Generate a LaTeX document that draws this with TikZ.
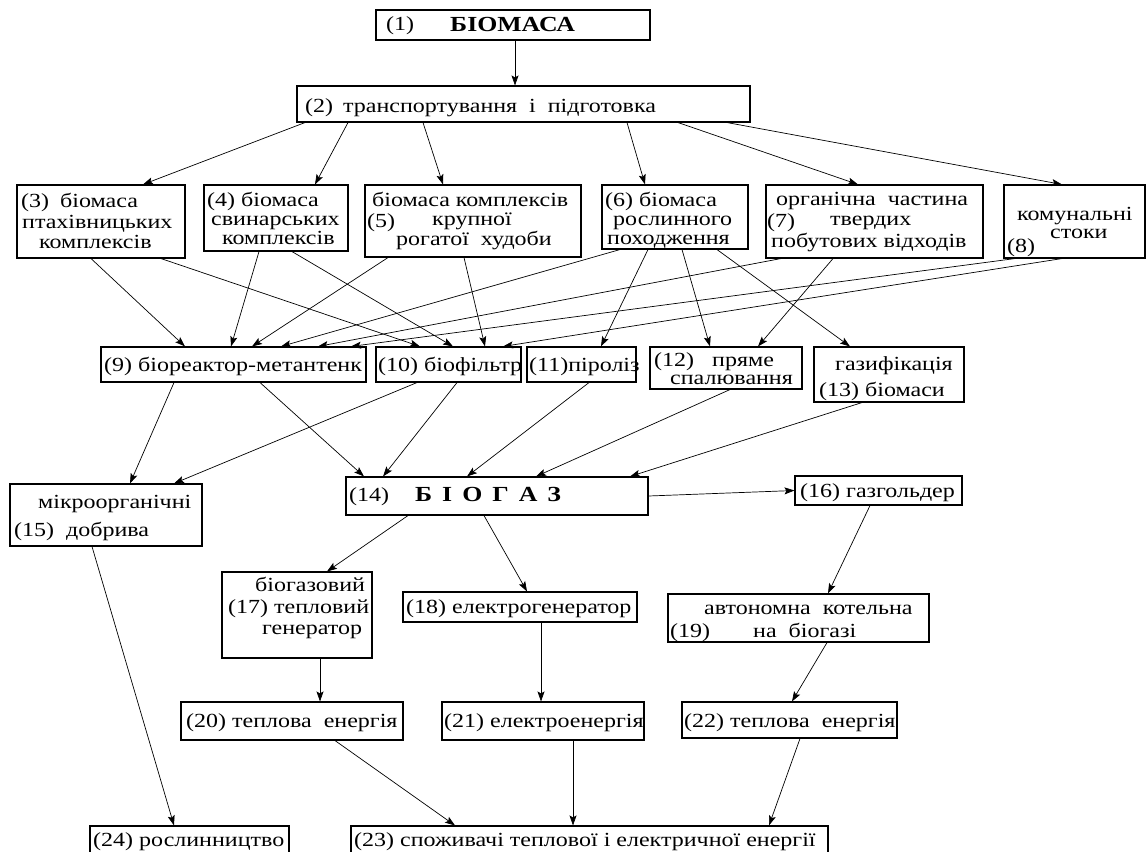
\documentclass[tikz,border=0pt]{standalone}
\usepackage{fontspec}
\setmainfont[FakeStretch=1.2]{Liberation Serif}
\usetikzlibrary{arrows.meta}
\newcommand\bx[5]{\node[box,minimum width={#4-#2},minimum height={#5-#3}] (#1) at ({(#2+#4)/2},{(#3+#5)/2}) {};}
\begin{document}
\begin{tikzpicture}[x=1pt,y=-1pt,
  box/.style={draw,line width=1.1pt,inner sep=0pt,fill=white},
  tx/.style={anchor=base west,inner sep=0pt,font=\fontsize{20}{20}\selectfont},
  bt/.style={anchor=base west,inner sep=0pt,font=\fontsize{21.5}{21.5}\selectfont\bfseries},
  arr/.style={-{Stealth[length=10pt,width=7pt,inset=2pt]},line width=0.7pt}]
\useasboundingbox[fill=white] (0,0) rectangle (1147,851);
% ---- boxes
\bx{n1}{376}{10}{650}{40}
\bx{n2}{297}{86}{750}{122}
\bx{n3}{17}{185}{185}{258}
\bx{n4}{204}{185}{348}{251}
\bx{n5}{365}{185}{581}{257}
\bx{n6}{602}{185}{748}{249}
\bx{n7}{766}{185}{983}{258}
\bx{n8}{1004}{185}{1145}{258}
\bx{n9}{101}{347}{366}{382}
\bx{n10}{376}{347}{521}{382}
\bx{n11}{527}{347}{636}{382}
\bx{n12}{650}{347}{802}{389}
\bx{n13}{814}{347}{964}{402}
\bx{n14}{346}{477}{648}{515}
\bx{n15}{10}{484}{202}{546}
\bx{n16}{795}{476}{962}{505}
\bx{n17}{222}{572}{372}{658}
\bx{n18}{403}{592}{637}{622}
\bx{n19}{668}{594}{929}{642}
\bx{n20}{181}{702}{403}{740}
\bx{n21}{442}{702}{644}{740}
\bx{n22}{682}{702}{897}{738}
\bx{n23}{351}{826}{828}{870}
\bx{n24}{90}{826}{289}{870}
% ---- texts
\node[tx] (l1) at (386,31) {(1)};
\node[bt] (t1) at (450,32) {БІОМАСА};
\node[tx] (l2) at (305,112) {(2)};
\node[tx] (t2) at (343,112) {транспортування~~і~~підготовка};
\node[tx] (l3) at (21,207) {(3)};
\node[tx] (t3a) at (60,207) {біомаса};
\node[tx] (t3b) at (22,228) {птахівницьких};
\node[tx] (t3c) at (39,248) {комплексів};
\node[tx] (t4a) at (207,206) {(4) біомаса};
\node[tx] (t4b) at (211,225) {свинарських};
\node[tx] (t4c) at (222,244) {комплексів};
\node[tx] (t5a) at (372,206) {біомаса комплексів};
\node[tx] (l5) at (367,227) {(5)};
\node[tx] (t5b) at (432,225) {крупної};
\node[tx] (t5c) at (396,245) {рогатої~~худоби};
\node[tx] (t6a) at (605,206) {(6) біомаса};
\node[tx] (t6b) at (613,225) {рослинного};
\node[tx] (t6c) at (607,244) {походження};
\node[tx] (t7a) at (776,205) {органічна~~частина};
\node[tx] (l7) at (767,227) {(7)};
\node[tx] (t7b) at (830,225) {твердих};
\node[tx] (t7c) at (771,247) {побутових відходів};
\node[tx] (t8a) at (1017,220) {комунальні};
\node[tx] (l8) at (1007,252) {(8)};
\node[tx] (t8b) at (1050,238) {стоки};
\node[tx] (t9) at (104,371) {(9) біореактор-метантенк};
\node[tx] (t10) at (378,371) {(10) біофільтр};
\node[tx] (t11) at (529,371) {(11)піроліз};
\node[tx] (t12a) at (654,366) {(12)~~~пряме};
\node[tx] (t12b) at (670,384) {спалювання};
\node[tx] (t13a) at (835,370) {газифікація};
\node[tx] (t13b) at (819,396) {(13) біомаси};
\node[tx] (l14) at (349,501) {(14)};
\node[bt] (t14) at (415,501) {Б\hspace{10pt}І\hspace{10pt}О\hspace{10pt}Г\hspace{10pt}А\hspace{10pt}З};
\node[tx] (t15a) at (38,508) {мікроорганічні};
\node[tx] (t15b) at (14,536) {(15)~~добрива};
\node[tx] (t16) at (800,497) {(16) газгольдер};
\node[tx] (t17a) at (255,591) {біогазовий};
\node[tx] (t17b) at (228,613) {(17) тепловий};
\node[tx] (t17c) at (262,634) {генератор};
\node[tx] (t18) at (406,613) {(18) електрогенератор};
\node[tx] (t19a) at (704,614) {автономна~~котельна};
\node[tx] (l19) at (670,637) {(19)};
\node[tx] (t19b) at (753,637) {на~~біогазі};
\node[tx] (t20) at (186,727) {(20) теплова~~енергія};
\node[tx] (t21) at (444,727) {(21) електроенергія};
\node[tx] (t22) at (684,727) {(22) теплова~~енергія};
\node[tx] (t23) at (354,846) {(23) споживачі теплової і електричної енергії};
\node[tx] (t24) at (93,846) {(24) рослинництво};
% ---- connectors
\draw[arr] (515,0 |- n1.south) -- (515,0 |- n2.north);
\draw[arr] (305,0 |- n2.south) -- (143,0 |- n3.north);
\draw[arr] (348,0 |- n2.south) -- (315,0 |- n4.north);
\draw[arr] (423,0 |- n2.south) -- (443,0 |- n5.north);
\draw[arr] (627,0 |- n2.south) -- (645,0 |- n6.north);
\draw[arr] (678,0 |- n2.south) -- (858,0 |- n7.north);
\draw[arr] (727,0 |- n2.south) -- (1062,0 |- n8.north);
\draw[arr] (91,0 |- n3.south) -- (185,0 |- n9.north);
\draw[arr] (161,0 |- n3.south) -- (420,0 |- n10.north);
\draw[arr] (259,0 |- n4.south) -- (231,0 |- n9.north);
\draw[arr] (292,0 |- n4.south) -- (453,0 |- n10.north);
\draw[arr] (388,0 |- n5.south) -- (252,0 |- n9.north);
\draw[arr] (464,0 |- n5.south) -- (485,0 |- n10.north);
\draw[arr] (620,0 |- n6.south) -- (281,0 |- n9.north);
\draw[arr] (781,0 |- n7.south) -- (318,0 |- n9.north);
\draw[arr] (1015,0 |- n8.south) -- (351,0 |- n9.north);
\draw[arr] (1062,0 |- n8.south) -- (503,0 |- n10.north);
\draw[arr] (648,0 |- n6.south) -- (601,0 |- n11.north);
\draw[arr] (682,0 |- n6.south) -- (710,0 |- n12.north);
\draw[arr] (717,0 |- n6.south) -- (850,0 |- n13.north);
\draw[arr] (833,0 |- n7.south) -- (758,0 |- n12.north);
\draw[arr] (174,0 |- n9.south) -- (130,0 |- n15.north);
\draw[arr] (417,0 |- n10.south) -- (174,0 |- n15.north);
\draw[arr] (260,0 |- n9.south) -- (364,0 |- n14.north);
\draw[arr] (457,0 |- n10.south) -- (383,0 |- n14.north);
\draw[arr] (589,0 |- n11.south) -- (467,0 |- n14.north);
\draw[arr] (730,0 |- n12.south) -- (536,0 |- n14.north);
\draw[arr] (862,0 |- n13.south) -- (630,0 |- n14.north);
\draw[arr] (n14.east) -- (n16.west);
\draw[arr] (408,0 |- n14.south) -- (327,0 |- n17.north);
\draw[arr] (484,0 |- n14.south) -- (527,0 |- n18.north);
\draw[arr] (870,0 |- n16.south) -- (828,0 |- n19.north);
\draw[arr] (320,0 |- n17.south) -- (320,0 |- n20.north);
\draw[arr] (541,0 |- n18.south) -- (541,0 |- n21.north);
\draw[arr] (827,0 |- n19.south) -- (792,0 |- n22.north);
\draw[arr] (92,0 |- n15.south) -- (174,0 |- n24.north);
\draw[arr] (335,0 |- n20.south) -- (455,0 |- n23.north);
\draw[arr] (573,0 |- n21.south) -- (573,0 |- n23.north);
\draw[arr] (800,0 |- n22.south) -- (769,0 |- n23.north);
\end{tikzpicture}
\end{document}
